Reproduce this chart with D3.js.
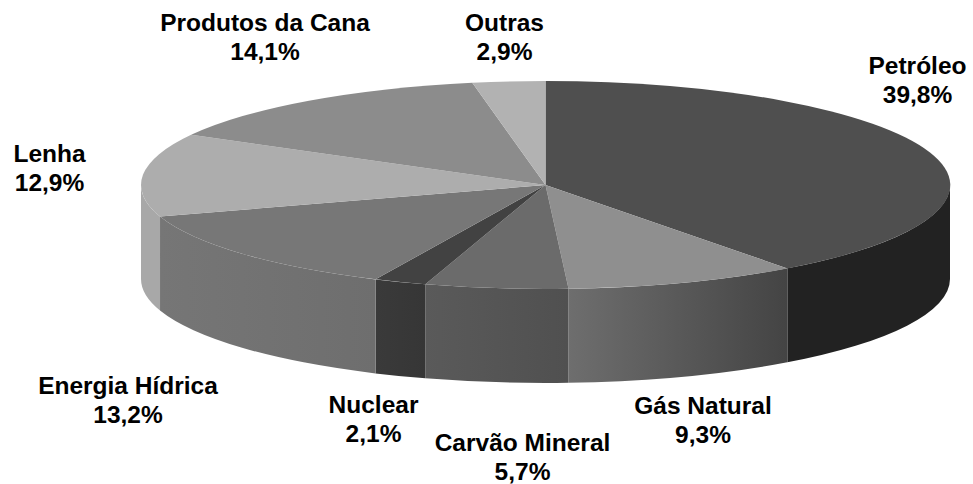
<!DOCTYPE html>
<html><head><meta charset="utf-8">
<script src="https://cdn.jsdelivr.net/npm/d3@7"></script>
<style>html,body{margin:0;padding:0;background:#fff}svg{display:block}
text{font-family:"Liberation Sans",Arial,sans-serif;font-weight:700;font-size:24.5px;fill:#000}</style>
</head><body><svg id="c" width="973" height="484"></svg>
<script>
const categories=["Petróleo","Gás Natural","Carvão Mineral","Nuclear","Energia Hídrica","Lenha","Produtos da Cana","Outras"];
const values=[39.8,9.3,5.7,2.1,13.2,12.9,14.1,2.9];
const valueLabels=["39,8%","9,3%","5,7%","2,1%","13,2%","12,9%","14,1%","2,9%"];
const topColors=["#4f4f4f","#8f8f8f","#6b6b6b","#424242","#777777","#adadad","#8c8c8c","#b2b2b2"];
const wallLeft=["#222222","#6e6e6e","#5a5a5a","#3a3a3a","#767676","#a8a8a8","#888888","#aaaaaa"];
const wallRight=["#222222","#444444","#505050","#363636","#6e6e6e","#a8a8a8","#888888","#aaaaaa"];
const labelX=[917.5,703,522.5,373.5,128,49.5,265,504.5];
const labelY=[74,414,451,413,394,162,31,31];

const cx=545.5,cy=185,rx=404.5,ry=104,depth=94,lineGap=28.5;
const svg=d3.select("#c");
const arcs=d3.pie().sort(null).value(d=>d)(values);
const defs=svg.append("defs");
const px=a=>cx+rx*Math.sin(a), py=a=>cy-ry*Math.cos(a);

// side walls: only the front half (pi/2 .. 3pi/2) is visible
const walls=svg.append("g");
arcs.forEach((d,i)=>{
  const a0=Math.max(d.startAngle,Math.PI/2), a1=Math.min(d.endAngle,Math.PI*1.5);
  if(a1<=a0) return;
  const id="w"+i;
  const xa=px(a0), xb=px(a1);
  const g=defs.append("linearGradient").attr("id",id).attr("gradientUnits","userSpaceOnUse")
    .attr("x1",Math.min(xa,xb)).attr("x2",Math.max(xa,xb)).attr("y1",0).attr("y2",0);
  g.append("stop").attr("offset",0).attr("stop-color",wallLeft[i]);
  g.append("stop").attr("offset",1).attr("stop-color",wallRight[i]);
  walls.append("path")
    .attr("d",`M${xa},${py(a0)}A${rx},${ry} 0 0 1 ${xb},${py(a1)}L${xb},${py(a1)+depth}A${rx},${ry} 0 0 0 ${xa},${py(a0)+depth}Z`)
    .attr("fill",`url(#${id})`);
});

// top face: unit arcs stretched into an ellipse
const arc=d3.arc().innerRadius(0).outerRadius(1);
svg.append("g").attr("transform",`translate(${cx},${cy}) scale(${rx},${ry})`)
  .selectAll("path").data(arcs).join("path")
  .attr("d",arc).attr("fill",(d,i)=>topColors[i]);

// labels
const lab=svg.append("g").attr("text-anchor","middle");
categories.forEach((c,i)=>{
  lab.append("text").attr("x",labelX[i]).attr("y",labelY[i]).text(c);
  lab.append("text").attr("x",labelX[i]).attr("y",labelY[i]+lineGap).text(valueLabels[i]);
});
</script></body></html>
